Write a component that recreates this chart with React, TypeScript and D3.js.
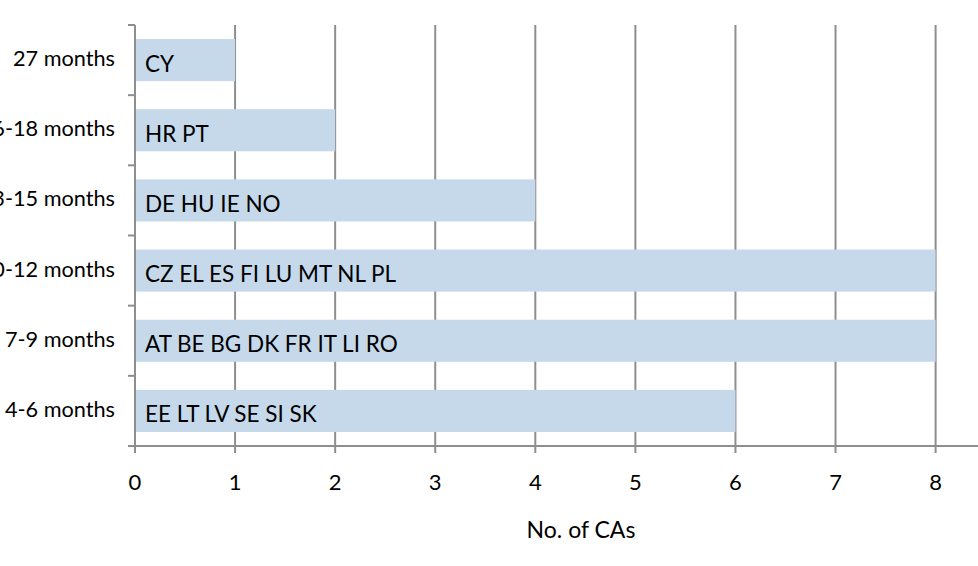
import React from "react";
import * as d3 from "d3";

const categories = ["27 months", "16-18 months", "13-15 months", "10-12 months", "7-9 months", "4-6 months"];
const counts = [1, 2, 4, 8, 8, 6];
const countryLabels = ["CY", "HR PT", "DE HU IE NO", "CZ EL ES FI LU MT NL PL", "AT BE BG DK FR IT LI RO", "EE LT LV SE SI SK"];
const xTicks = [0, 1, 2, 3, 4, 5, 6, 7, 8];
const xTitle = "No. of CAs";

const W = 978;
const H = 566;
const FONT = "Lato, 'Open Sans', sans-serif";
const GRID = "#8e8e8e";
const BAR = "#c6d9eb";

export default function App() {
  const x = d3.scaleLinear().domain([0, 8]).range([135, 935.6]);
  const y = d3.scaleBand<string>().domain(categories).range([25, 446]).paddingInner(0.4).paddingOuter(0.2);
  const band = d3.scaleBand<string>().domain(categories).range([25, 446]);
  const top = 25;
  const axisY = 446;
  const tickLen = 7;

  return (
    <svg width={W} height={H} style={{ position: "absolute", left: 0, top: 0, background: "#fff" }}>
      {xTicks.map((t) => (
        <line key={"g" + t} x1={x(t)} x2={x(t)} y1={top} y2={axisY + tickLen} stroke={GRID} strokeWidth={2} />
      ))}
      {categories.map((c, i) => (
        <rect key={"b" + c} x={x(0)} y={y(c)!} width={x(counts[i]) - x(0)} height={y.bandwidth()} fill={BAR} />
      ))}
      <line x1={x(0)} x2={x(0)} y1={top} y2={axisY + tickLen} stroke={GRID} strokeWidth={2} />
      <line x1={x(0) - tickLen} x2={W} y1={axisY} y2={axisY} stroke={GRID} strokeWidth={2} />
      {categories.map((c) => (
        <line key={"t" + c} x1={x(0) - tickLen} x2={x(0)} y1={band(c)!} y2={band(c)!} stroke={GRID} strokeWidth={2} />
      ))}
      {categories.map((c) => (
        <text key={"l" + c} x={115} y={band(c)! + band.bandwidth() / 2 + 6} textAnchor="end" fontFamily={FONT} fontSize={21.7} fill="#000">
          {c}
        </text>
      ))}
      {categories.map((c, i) => (
        <text key={"bl" + c} x={x(0) + 10} y={band(c)! + band.bandwidth() / 2 + 11.5} fontFamily={FONT} fontSize={22.5} fill="#000">
          {countryLabels[i]}
        </text>
      ))}
      {xTicks.map((t) => (
        <text key={"xl" + t} x={x(t)} y={489.5} textAnchor="middle" fontFamily={FONT} fontSize={22} fill="#000">
          {t}
        </text>
      ))}
      <text x={581} y={537.5} textAnchor="middle" fontFamily={FONT} fontSize={23} fill="#000">
        {xTitle}
      </text>
    </svg>
  );
}
